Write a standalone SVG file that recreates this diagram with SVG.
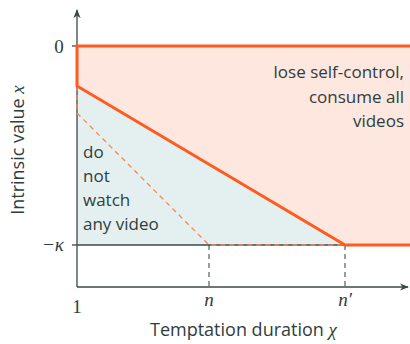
<svg xmlns="http://www.w3.org/2000/svg" width="410" height="344" viewBox="0 0 410 344">
<style>
.t{font-family:"Open Sans","DejaVu Sans",sans-serif;fill:#2f3d3d;font-size:17px}
.xl{font-size:18px}
.m{font-family:"Liberation Serif","DejaVu Serif",serif;font-style:italic;fill:#2f3d3d;font-size:19px}
.r{font-family:"Liberation Serif","DejaVu Serif",serif;fill:#2f3d3d;font-size:19px}
.ax{stroke:#3a4848;stroke-width:1.3;fill:none}
.sol{stroke:#ff5a1f;stroke-width:3;fill:none;stroke-linejoin:miter}
.dsh{stroke:#f5875a;stroke-width:1.3;fill:none;stroke-dasharray:5 4}
.gd{stroke:#2f3d3d;stroke-width:1;fill:none;stroke-dasharray:5 4}
</style>
<defs>
<marker id="ah" viewBox="0 0 10 10" refX="9" refY="5" markerWidth="7" markerHeight="7" orient="auto">
<path d="M0,1 L10,5 L0,9 L3,5 Z" fill="#3a4848"/>
</marker>
</defs>
<g id="regions">
<polygon points="77,46 410,46 410,245 345,245 77,86" fill="#fde7df"/>
<polygon points="77,86 345,245 77,245" fill="#e4f0f0"/>
</g>
<g id="connectors">
<line class="ax" x1="77" y1="245" x2="410" y2="245"/>
<line class="ax" x1="77" y1="287" x2="77" y2="10" marker-end="url(#ah)"/>
<line class="ax" x1="77" y1="287" x2="408" y2="287" marker-end="url(#ah)"/>
<line class="ax" x1="72" y1="46" x2="77" y2="46"/>
<line class="ax" x1="72" y1="245" x2="77" y2="245"/>
<line class="gd" x1="209" y1="245" x2="209" y2="287"/>
<line class="gd" x1="345" y1="245" x2="345" y2="287"/>
<polyline class="dsh" points="77,86 77,113 209,245 345,245"/>
<polyline class="sol" points="410,46 77,46 77,86 345,245 410,245"/>
</g>
<g id="labels">
<text class="r" x="59" y="53" text-anchor="middle">0</text>
<text class="m" x="64" y="251" text-anchor="end">−κ</text>
<text class="r" x="77" y="313" text-anchor="middle">1</text>
<text class="m" x="209" y="306" text-anchor="middle">n</text>
<text class="m" x="345" y="306" text-anchor="middle">n′</text>
<text class="t" x="404" y="78" text-anchor="end">lose self-control,</text>
<text class="t" x="404" y="103" text-anchor="end">consume all</text>
<text class="t" x="404" y="127" text-anchor="end">videos</text>
<text class="t" x="83" y="158">do</text>
<text class="t" x="83" y="182">not</text>
<text class="t" x="83" y="206">watch</text>
<text class="t" x="83" y="230">any video</text>
<text class="t xl" x="150" y="336">Temptation duration <tspan class="m">χ</tspan></text>
<text class="t xl" transform="translate(24,150) rotate(-90)" text-anchor="middle">Intrinsic value <tspan class="m">x</tspan></text>
</g>
</svg>
